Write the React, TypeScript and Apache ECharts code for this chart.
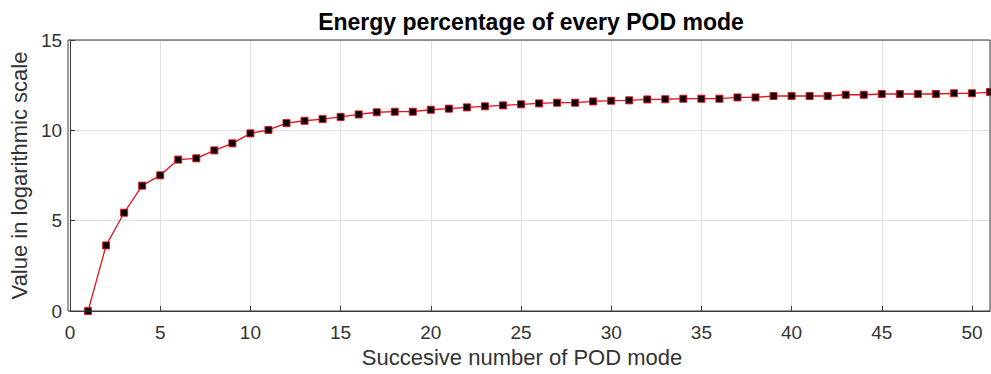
import React, { useEffect, useRef } from "react";
import * as echarts from "echarts";

// Mode index (1..51) and the energy of each POD mode on a logarithmic scale
const modes: number[] = Array.from({ length: 51 }, (_, i) => i + 1);
const energyLog: number[] = [
  0, 3.63, 5.44, 6.94, 7.51, 8.38, 8.45, 8.89, 9.28, 9.83,
  10.02, 10.4, 10.53, 10.62, 10.74, 10.88, 11.0, 11.03, 11.03, 11.14,
  11.2, 11.27, 11.33, 11.38, 11.44, 11.49, 11.53, 11.53, 11.6, 11.64,
  11.66, 11.71, 11.72, 11.75, 11.75, 11.75, 11.82, 11.82, 11.9, 11.9,
  11.9, 11.9, 11.97, 11.97, 12.01, 12.01, 12.01, 12.01, 12.05, 12.05,
  12.12,
];
const xTicks = { min: 0, max: 51, interval: 5 };
const yTicks = { min: 0, max: 15, interval: 5 };

const FONT = "Liberation Sans, Arial, sans-serif";
const AXIS_COLOR = "#3a3a3a";
const LABEL_COLOR = "#333333";

export default function App() {
  const ref = useRef<HTMLDivElement>(null);

  useEffect(() => {
    if (!ref.current) return;
    const chart = echarts.init(ref.current, null, { renderer: "svg" });
    chart.setOption({
      animation: false,
      backgroundColor: "#ffffff",
      title: {
        text: "Energy percentage of every POD mode",
        left: 526,
        textAlign: "center",
        top: 5,
        textStyle: { fontFamily: FONT, fontSize: 23, fontWeight: "bold", color: "#000" },
      },
      grid: { left: 68, right: 1, top: 40, bottom: 63, containLabel: false },
      xAxis: {
        type: "value",
        min: xTicks.min,
        max: xTicks.max,
        interval: xTicks.interval,
        name: "Succesive number of POD mode",
        nameLocation: "middle",
        nameGap: 31,
        nameTextStyle: { fontFamily: FONT, fontSize: 22, color: LABEL_COLOR, padding: [0, 16, 0, 0] },
        axisLine: { show: true, lineStyle: { color: AXIS_COLOR, width: 1 } },
        axisTick: { show: true, inside: true, length: 5, lineStyle: { color: AXIS_COLOR } },
        axisLabel: {
          fontFamily: FONT,
          fontSize: 19,
          color: LABEL_COLOR,
          margin: 12,
          showMaxLabel: false,
          formatter: (v: number) => (v % 5 === 0 ? String(v) : ""),
        },
        splitLine: { show: true, lineStyle: { color: "#e0e0e0", width: 1 } },
      },
      yAxis: {
        type: "value",
        min: yTicks.min,
        max: yTicks.max,
        interval: yTicks.interval,
        name: "Value in logarithmic scale",
        nameLocation: "middle",
        nameGap: 37,
        nameTextStyle: { fontFamily: FONT, fontSize: 22, color: LABEL_COLOR },
        axisLine: { show: true, lineStyle: { color: AXIS_COLOR, width: 1 } },
        axisTick: { show: true, inside: true, length: 5, lineStyle: { color: AXIS_COLOR } },
        axisLabel: { fontFamily: FONT, fontSize: 19, color: LABEL_COLOR, margin: 8 },
        splitLine: { show: true, lineStyle: { color: "#e0e0e0", width: 1 } },
      },
      series: [
        {
          type: "line",
          data: modes.map((m, i) => [m, energyLog[i]]),
          symbol: "rect",
          symbolSize: 7,
          showAllSymbol: true,
          lineStyle: { color: "#e0141e", width: 1.3 },
          itemStyle: { color: "#000000", borderColor: "#e0141e", borderWidth: 1 },
          z: 3,
        },
      ],
      graphic: [
        {
          type: "rect",
          shape: { x: 68, y: 40, width: 922, height: 271 },
          style: { fill: "none", stroke: AXIS_COLOR, lineWidth: 1 },
          silent: true,
          z: 10,
        },
      ],
    });
    return () => chart.dispose();
  }, []);

  return <div ref={ref} style={{ width: 991, height: 374, position: "absolute", left: 0, top: 0 }} />;
}
